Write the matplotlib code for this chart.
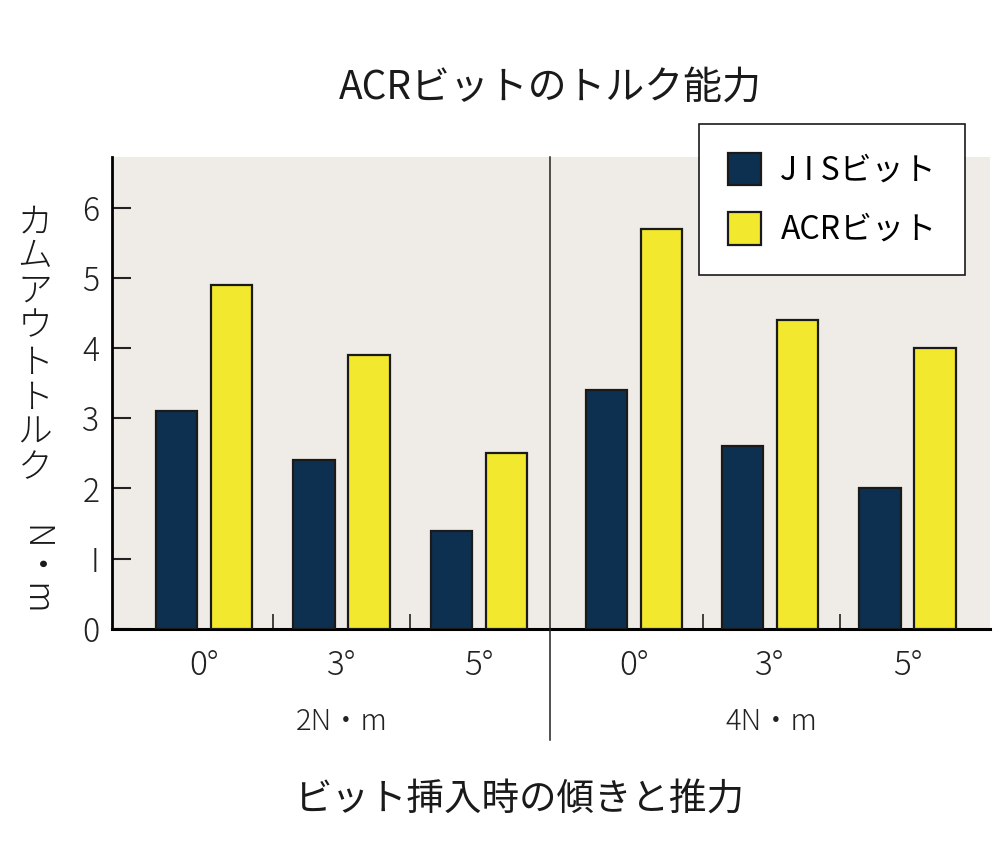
import numpy as np
import matplotlib
matplotlib.use('Agg')
from matplotlib import pyplot as plt
from matplotlib.patches import Patch

plt.rcParams['font.family'] = ['Noto Sans CJK JP', 'DejaVu Sans']
plt.rcParams['font.weight'] = 'light'

# data
groups = ['0°', '3°', '5°', '0°', '3°', '5°']
jis = [3.1, 2.4, 1.4, 3.4, 2.6, 2.0]
acr = [4.9, 3.9, 2.5, 5.7, 4.4, 4.0]
loads = ['2N・m', '4N・m']
ylabel_kana = 'カムアウトトルク'

navy = '#0d3050'
yellow = '#f2e92e'
bg = '#efebe6'

x = np.array([0, 1, 2, 3.13, 4.12, 5.12])
w = 0.3

fig = plt.figure(figsize=(10, 8.61), dpi=100)
ax = fig.add_axes([0.112, 0.2695, 0.878, 0.5482])
ax.set_facecolor(bg)

ax.bar(x - 0.2, jis, w, color=navy, edgecolor='#1a1a1a', linewidth=1.6, zorder=3)
ax.bar(x + 0.2, acr, w, color=yellow, edgecolor='#1a1a1a', linewidth=1.6, zorder=3)

ax.set_xlim(-0.67, 5.72)
ax.set_ylim(0, 6.72)

for s in ['top', 'right']:
	ax.spines[s].set_visible(False)
ax.spines['left'].set_linewidth(2)
ax.spines['bottom'].set_linewidth(2.2)

ax.set_yticks(range(7))
ax.set_yticklabels(['0', 'I', '2', '3', '4', '5', '6'])
ax.tick_params(axis='y', direction='in', length=14, width=1.5, pad=9, labelsize=23, colors='#222222')
ax.set_xticks(x)
ax.set_xticklabels(groups)
ax.tick_params(axis='x', which='major', length=0, pad=14, labelsize=24, colors='#222222')
ax.set_xticks([0.5, 1.5, 3.63, 4.63], minor=True)
ax.tick_params(axis='x', which='minor', direction='in', length=11, width=1.2, color='#222222')

# divider between the two load blocks
divx = 2.52
ax.plot([divx, divx], [-1.58, 6.72], color='#222222', linewidth=1.1, clip_on=False, zorder=4)

ax.text(1.0, -1.32, loads[0], ha='center', va='center', fontsize=21, color='#222222')
ax.text(4.13, -1.32, loads[1], ha='center', va='center', fontsize=21, color='#222222')

fig.text(0.55, 0.898, 'ACRビットのトルク能力', ha='center', va='center', fontsize=28,
	fontweight='normal', color='#1a1a1a')
fig.text(0.519, 0.071, 'ビット挿入時の傾きと推力', ha='center', va='center', fontsize=27,
	fontweight='normal', color='#1a1a1a')

# vertical y label, characters stacked
ys = [222, 256, 291, 326, 363, 398, 433, 468]
for ch, yp in zip(ylabel_kana, ys):
	fig.text(0.035, 1 - yp / 861.0, ch, ha='center', va='center', fontsize=25, color='#1a1a1a')
fig.text(0.035, 1 - 570 / 861.0, 'N・m', ha='center', va='center', fontsize=25, rotation=-90, color='#1a1a1a')

handles = [Patch(facecolor=navy, edgecolor='#1a1a1a', linewidth=1.6),
	Patch(facecolor=yellow, edgecolor='#1a1a1a', linewidth=1.6)]
leg = fig.legend(handles, ['J I Sビット', 'ACRビット'], loc='upper left',
	bbox_to_anchor=(0.699, 1 - 124 / 861.0), fontsize=23, frameon=True,
	fancybox=False, edgecolor='#1a1a1a', framealpha=1, borderaxespad=0,
	handlelength=1.05, handleheight=1.2, labelspacing=0.78, borderpad=0.9,
	handletextpad=0.6)
leg.get_frame().set_linewidth(1.2)
for t in leg.get_texts():
	t.set_fontweight('normal')

fig.savefig('out.png', dpi=100)
